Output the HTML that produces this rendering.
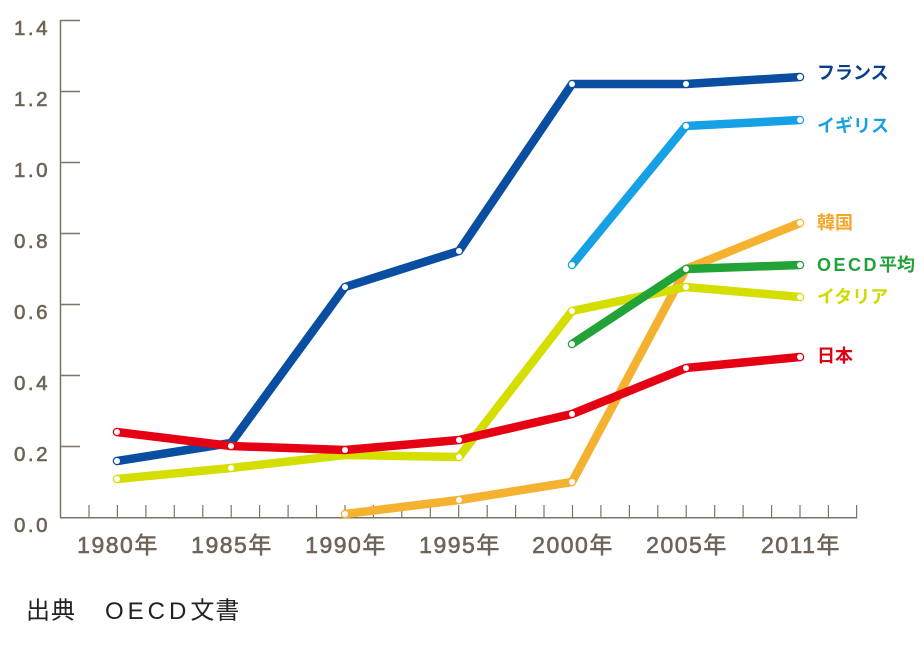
<!DOCTYPE html>
<html><head><meta charset="utf-8"><style>
html,body{margin:0;padding:0;background:#fff;}
svg{display:block;}
.yl{font-family:"Liberation Sans","Noto Sans CJK JP",sans-serif;font-size:20.5px;fill:#6e6457;stroke:#6e6457;stroke-width:0.6px;letter-spacing:2.5px;}
.xl{font-family:"Liberation Sans","Noto Sans CJK JP",sans-serif;font-size:23px;fill:#6e6457;stroke:#6e6457;stroke-width:0.6px;letter-spacing:1.5px;}
.lg{font-family:"Liberation Sans","Noto Sans CJK JP",sans-serif;font-size:18px;font-weight:bold;}
.cap{font-family:"Liberation Sans","Noto Sans CJK JP",sans-serif;font-size:24px;fill:#222;letter-spacing:1px;}
</style></head><body>
<svg width="924" height="657" viewBox="0 0 924 657" xmlns="http://www.w3.org/2000/svg">
<g stroke="#7d7366" stroke-width="1.5" fill="none">
<line x1="60.5" y1="20.5" x2="60.5" y2="517.7"/>
<line x1="60" y1="517.7" x2="857" y2="517.7"/>
<line x1="60" y1="20.5" x2="80" y2="20.5"/>
<line x1="60" y1="91.5" x2="80" y2="91.5"/>
<line x1="60" y1="162.5" x2="80" y2="162.5"/>
<line x1="60" y1="233.5" x2="80" y2="233.5"/>
<line x1="60" y1="304.5" x2="80" y2="304.5"/>
<line x1="60" y1="375.5" x2="80" y2="375.5"/>
<line x1="60" y1="446.5" x2="80" y2="446.5"/>
</g>
<g stroke="#7d7366" stroke-width="1.2">
<line x1="89" y1="505" x2="89" y2="518"/><line x1="117.4" y1="505" x2="117.4" y2="518"/><line x1="145.9" y1="505" x2="145.9" y2="518"/><line x1="174.3" y1="505" x2="174.3" y2="518"/><line x1="202.8" y1="505" x2="202.8" y2="518"/><line x1="231.2" y1="505" x2="231.2" y2="518"/><line x1="259.6" y1="505" x2="259.6" y2="518"/><line x1="288.1" y1="505" x2="288.1" y2="518"/><line x1="316.5" y1="505" x2="316.5" y2="518"/><line x1="345" y1="505" x2="345" y2="518"/><line x1="373.4" y1="505" x2="373.4" y2="518"/><line x1="401.8" y1="505" x2="401.8" y2="518"/><line x1="430.3" y1="505" x2="430.3" y2="518"/><line x1="458.7" y1="505" x2="458.7" y2="518"/><line x1="487.2" y1="505" x2="487.2" y2="518"/><line x1="515.6" y1="505" x2="515.6" y2="518"/><line x1="544" y1="505" x2="544" y2="518"/><line x1="572.5" y1="505" x2="572.5" y2="518"/><line x1="600.9" y1="505" x2="600.9" y2="518"/><line x1="629.4" y1="505" x2="629.4" y2="518"/><line x1="657.8" y1="505" x2="657.8" y2="518"/><line x1="686.2" y1="505" x2="686.2" y2="518"/><line x1="714.7" y1="505" x2="714.7" y2="518"/><line x1="743.1" y1="505" x2="743.1" y2="518"/><line x1="771.6" y1="505" x2="771.6" y2="518"/><line x1="800" y1="505" x2="800" y2="518"/><line x1="828.4" y1="505" x2="828.4" y2="518"/><line x1="856.6" y1="505" x2="856.6" y2="518"/>
</g>
<g class="yl" text-anchor="end">
<text x="50" y="35">1.4</text>
<text x="50" y="106">1.2</text>
<text x="50" y="177">1.0</text>
<text x="50" y="248">0.8</text>
<text x="50" y="319">0.6</text>
<text x="50" y="390">0.4</text>
<text x="50" y="461">0.2</text>
<text x="50" y="532">0.0</text>
</g>
<g class="xl" text-anchor="middle">
<text x="118" y="553">1980年</text>
<text x="232" y="553">1985年</text>
<text x="346" y="553">1990年</text>
<text x="460" y="553">1995年</text>
<text x="573" y="553">2000年</text>
<text x="687" y="553">2005年</text>
<text x="801" y="553">2011年</text>
</g>
<g fill="none" stroke-width="8.5" stroke-linecap="round" stroke-linejoin="round">
<polyline stroke="#f5b130" points="345,514 459,500 572,482 686,269 800,223"/>
<polyline stroke="#16a0e6" points="572,265 686,126 800,120"/>
<polyline stroke="#0a4ea2" points="117,461 231,443 345,287 459,251 572,84 686,84 800,77"/>
<polyline stroke="#d4df00" points="117,479 231,468 345,455 459,457 572,311 686,287 800,297"/>
<polyline stroke="#22a338" points="572,344 686,269 800,265"/>
<polyline stroke="#e60014" points="117,432 231,446 345,450 459,440 572,414 686,368 800,357"/>
</g>
<g fill="#fff">
<circle cx="345" cy="514" r="3"/><circle cx="459" cy="500" r="3"/><circle cx="572" cy="482" r="3"/><circle cx="800" cy="223" r="3"/>
<circle cx="572" cy="265" r="3"/><circle cx="686" cy="126" r="3"/><circle cx="800" cy="120" r="3"/>
<circle cx="117" cy="461" r="3"/><circle cx="345" cy="287" r="3"/><circle cx="459" cy="251" r="3"/><circle cx="572" cy="84" r="3"/><circle cx="686" cy="84" r="3"/><circle cx="800" cy="77" r="3"/>
<circle cx="117" cy="479" r="3"/><circle cx="231" cy="468" r="3"/><circle cx="459" cy="457" r="3"/><circle cx="572" cy="311" r="3"/><circle cx="686" cy="287" r="3"/><circle cx="800" cy="297" r="3"/>
<circle cx="572" cy="344" r="3"/><circle cx="686" cy="269" r="3"/><circle cx="800" cy="265" r="3"/>
<circle cx="117" cy="432" r="3"/><circle cx="231" cy="446" r="3"/><circle cx="345" cy="450" r="3"/><circle cx="459" cy="440" r="3"/><circle cx="572" cy="414" r="3"/><circle cx="686" cy="368" r="3"/><circle cx="800" cy="357" r="3"/>
</g>
<g class="lg" dominant-baseline="central">
<text x="817" y="73" fill="#0b3f8c">フランス</text>
<text x="817" y="126" fill="#1a9fe3">イギリス</text>
<text x="817" y="223" fill="#f4a62a">韓国</text>
<text x="817" y="265" fill="#22a03a"><tspan letter-spacing="2.5">OECD</tspan>平均</text>
<text x="817" y="297" fill="#cfdb00">イタリア</text>
<text x="817" y="356" fill="#e00016">日本</text>
</g>
<text class="cap" x="26" y="611" dominant-baseline="central">出典　<tspan dx="4" letter-spacing="4">OECD</tspan>文書</text>
</svg>
</body></html>
